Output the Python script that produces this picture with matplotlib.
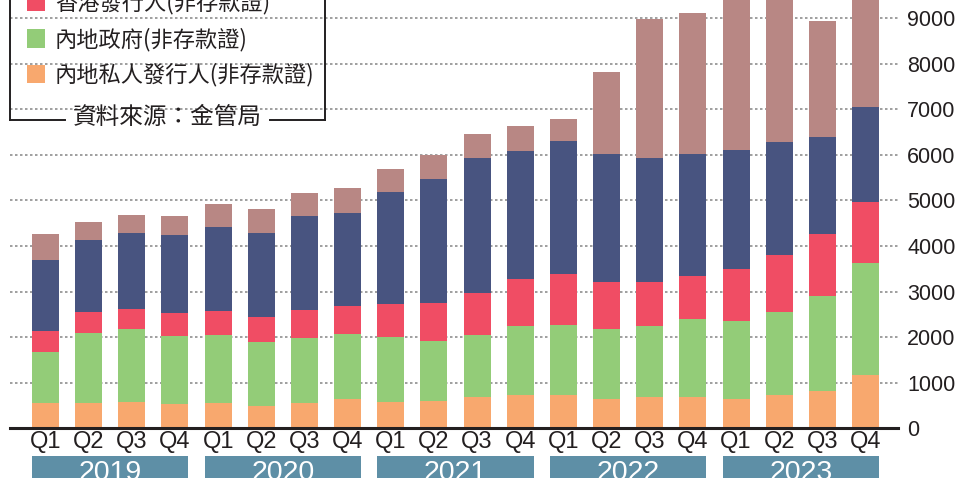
import matplotlib
matplotlib.use('Agg')
import numpy as np
import matplotlib.pyplot as plt
from matplotlib.patches import Rectangle
from matplotlib.lines import Line2D
import matplotlib.transforms as mtransforms

# ---------------- data ----------------
quarters = ['Q1', 'Q2', 'Q3', 'Q4'] * 5
years = ['2019', '2020', '2021', '2022', '2023']

mainland_private = [555, 555, 583, 540, 555, 496, 555, 643, 583, 605,
                    693, 730, 730, 643, 686, 686, 643, 730, 818, 1169]
mainland_gov = [1118, 1535, 1595, 1484, 1491, 1397, 1425, 1425, 1419, 1309,
                1353, 1513, 1535, 1535, 1557, 1711, 1710, 1820, 2083, 2456]
hk_issuers = [461, 460, 438, 505, 526, 548, 614, 614, 724, 834,
              921, 1031, 1119, 1030, 965, 943, 1140, 1250, 1360, 1338]
series_blue = [1557, 1579, 1667, 1710, 1842, 1842, 2062, 2039, 2456, 2719,
               2961, 2807, 2916, 2807, 2720, 2675, 2610, 2478, 2127, 2083]
series_brown = [570, 395, 395, 417, 505, 526, 504, 549, 504, 526,
                526, 548, 483, 1799, 3048, 3092, 3600, 3500, 2544, 2800]

legend_labels = ['香港發行人(非存款證)', '內地政府(非存款證)', '內地私人發行人(非存款證)']
source_text = '資料來源：金管局'

c_orange = '#f8a86e'
c_green = '#93cc78'
c_red = '#f04d64'
c_blue = '#485480'
c_brown = '#b88784'
c_year = '#5e8fa6'
c_text = '#231f20'

CJK = ['Noto Sans CJK TC', 'DejaVu Sans']
NUM = ['Liberation Sans Narrow', 'Liberation Sans', 'DejaVu Sans']

W, H = 957, 478
fig = plt.figure(figsize=(W / 100, H / 100), dpi=100)


def fx(x):
    return x / W


def fy(y):
    return 1 - y / H


y0 = 428.3
ax = fig.add_axes([fx(10), fy(y0), (898 - 10) / W, y0 / H])
n = len(quarters)
x = np.arange(n)
bw = 0.626
bottom = np.zeros(n)
for vals, col in [(mainland_private, c_orange), (mainland_gov, c_green),
                  (hk_issuers, c_red), (series_blue, c_blue),
                  (series_brown, c_brown)]:
    v = np.array(vals, dtype=float)
    ax.bar(x, v, width=bw, bottom=bottom, color=col, linewidth=0, zorder=2)
    bottom += v

ax.set_xlim(-0.8225, 19.752)
ax.set_ylim(0, 9393)
for v in range(1000, 10000, 1000):
    ax.axhline(v, color='#8f8f8f', lw=1.2, ls=(0, (1.5, 1.5)), zorder=1)

for s in ['top', 'left', 'right']:
    ax.spines[s].set_visible(False)
ax.spines['bottom'].set_linewidth(2.2)
ax.spines['bottom'].set_color(c_text)
ax.spines['bottom'].set_zorder(3)

ax.set_yticks(range(0, 10000, 1000))
ax.yaxis.tick_right()
ax.tick_params(axis='y', length=0, pad=6.5, labelsize=15.5, labelcolor=c_text)
for lab in ax.get_yticklabels():
    lab.set_family(NUM)

ax.set_xticks(x)
ax.set_xticklabels(quarters)
ax.tick_params(axis='x', length=0, pad=2.0, labelsize=17, labelcolor=c_text)
for lab in ax.get_xticklabels():
    lab.set_family(NUM)

# year boxes
trans = mtransforms.blended_transform_factory(ax.transData, fig.transFigure)
for k, yr in enumerate(years):
    x0 = 4 * k - bw / 2
    x1 = 4 * k + 3 + bw / 2
    ax.add_patch(Rectangle((x0, fy(490)), x1 - x0, fy(456) - fy(490),
                           transform=trans, color=c_year, clip_on=False,
                           linewidth=0))
    ax.text((x0 + x1) / 2, fy(480), yr, transform=trans, ha='center',
            va='baseline', color='white', fontsize=20.5,
            family=['Liberation Sans', 'DejaVu Sans'])

# legend (top cropped)
lw = 1.4
fig.add_artist(Line2D([fx(10), fx(10)], [fy(-10), fy(120)], color=c_text, lw=lw))
fig.add_artist(Line2D([fx(325), fx(325)], [fy(-10), fy(120)], color=c_text, lw=lw))
fig.add_artist(Line2D([fx(10), fx(65)], [fy(120), fy(120)], color=c_text, lw=lw))
fig.add_artist(Line2D([fx(270), fx(325)], [fy(120), fy(120)], color=c_text, lw=lw))
fig.text(fx(73), fy(118), source_text, ha='left', va='center', fontsize=17,
         color=c_text, family=CJK)

sq_centers = [1.5, 38.5, 74]
for yc, col, lab in zip(sq_centers, [c_red, c_green, c_orange], legend_labels):
    fig.add_artist(Rectangle((fx(27), fy(yc + 9)), 18 / W, 18 / H,
                             transform=fig.transFigure, color=col, linewidth=0))
    fig.text(fx(55), fy(yc + 1), lab, ha='left', va='center', fontsize=16,
             color=c_text, family=CJK)

fig.savefig('out.png', dpi=100)
